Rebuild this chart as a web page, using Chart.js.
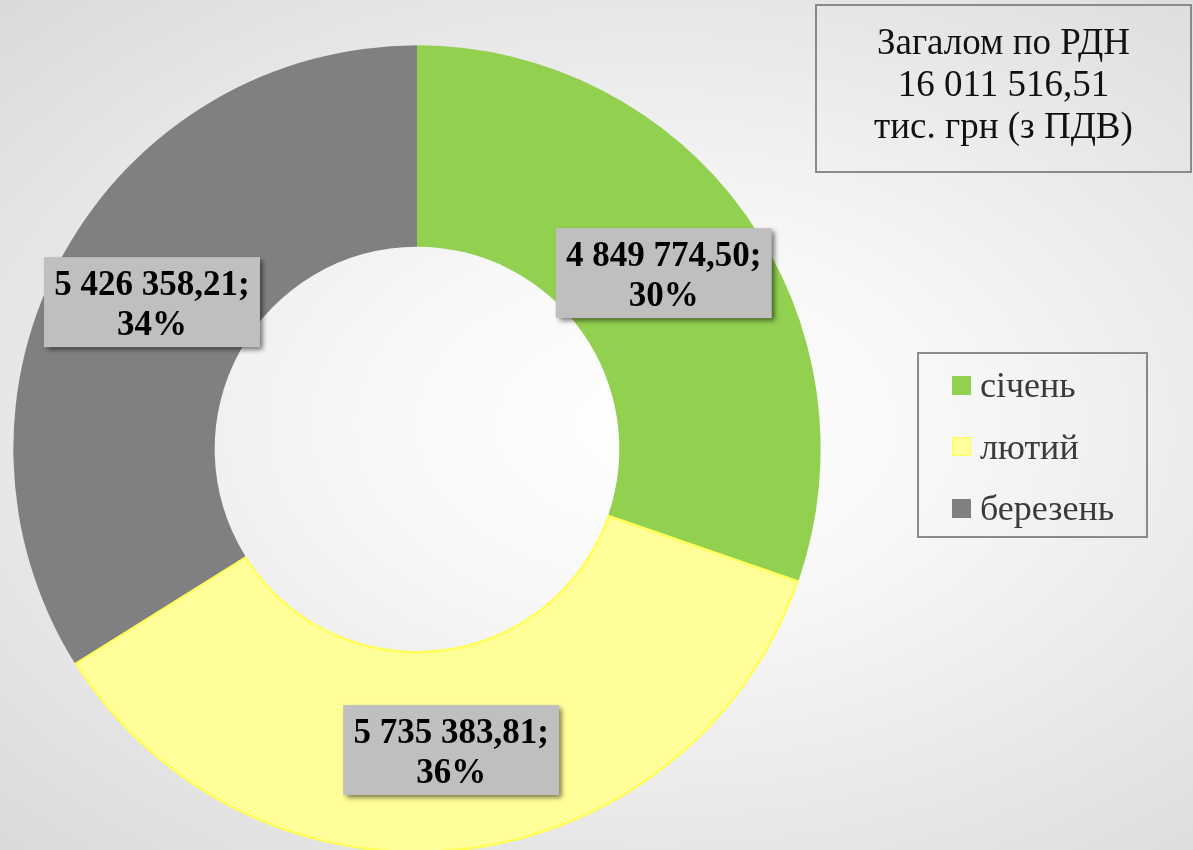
<!DOCTYPE html>
<html>
<head>
<meta charset="utf-8">
<script src="https://cdn.jsdelivr.net/npm/chart.js@4/dist/chart.umd.min.js"></script>
<style>
  html, body { margin: 0; padding: 0; }
  body {
    width: 1193px; height: 850px; overflow: hidden; position: relative;
    background: radial-gradient(ellipse farthest-corner at 55% 50%, #ffffff 0%, #f8f8f8 30%, #dadada 100%);
    font-family: "Liberation Serif", "Times New Roman", serif;
  }
  #wrap { position: absolute; left: 0; top: 0; width: 1193px; height: 861px; }
  #title {
    position: absolute; left: 815px; top: 4px; width: 373px; height: 155px; padding-bottom: 10px;
    border: 2px solid #8a8a8a; color: #111;
    font-size: 37px; line-height: 42px; text-align: center;
    display: flex; flex-direction: column; justify-content: center;
  }
  #legend {
    position: absolute; left: 917px; top: 352px; width: 227px; height: 182px;
    border: 2px solid #8a8a8a;
  }
  .item { position: absolute; left: 33px; height: 40px; display: flex; align-items: center;
    font-size: 36px; color: #3a3a3a; }
  .sw { width: 19px; height: 19px; margin-right: 9px; box-sizing: border-box; }
</style>
</head>
<body>
<div id="wrap"><canvas id="donut" width="1193" height="861"></canvas></div>
<div id="title"><div>Загалом по РДН</div><div>16 011 516,51</div><div>тис. грн (з ПДВ)</div></div>
<div id="legend"></div>
<script>
const months = ["січень", "лютий", "березень"];
const values = [4849774.50, 5735383.81, 5426358.21];
const colors = ["#92D050", "#FFFF99", "#808080"];
const borders = ["#92D050", "#FFFF55", "#808080"];

function formatUa(n) {
    const parts = n.toFixed(2).split(".");
    return parts[0].replace(/\B(?=(\d{3})+(?!\d))/g, " ") + "," + parts[1];
}

// legend in a bordered box
const legend = document.getElementById("legend");
months.forEach(function (m, i) {
    const row = document.createElement("div");
    row.className = "item";
    row.style.top = (11 + i * 61.5) + "px";
    const sw = document.createElement("span");
    sw.className = "sw";
    sw.style.background = colors[i];
    sw.style.border = "1px solid " + borders[i];
    row.appendChild(sw);
    row.appendChild(document.createTextNode(m));
    legend.appendChild(row);
});

const labelBoxes = {
    id: "labelBoxes",
    afterDatasetsDraw(chart) {
        const ctx = chart.ctx;
        const data = chart.data.datasets[0].data;
        const total = data.reduce((a, b) => a + b, 0);
        chart.getDatasetMeta(0).data.forEach(function (arc, i) {
            const p = arc.tooltipPosition();
            const w = 216, h = 90;
            ctx.save();
            ctx.shadowColor = "rgba(0,0,0,0.55)";
            ctx.shadowBlur = 5;
            ctx.shadowOffsetX = 3;
            ctx.shadowOffsetY = 3;
            ctx.fillStyle = "#BFBFBF";
            ctx.fillRect(p.x - w / 2, p.y - h / 2, w, h);
            ctx.restore();
            ctx.save();
            ctx.fillStyle = "#000";
            ctx.font = "bold 35px 'Liberation Serif'";
            ctx.textAlign = "center";
            ctx.textBaseline = "alphabetic";
            ctx.fillText(formatUa(data[i]) + ";", p.x, p.y - 7);
            ctx.fillText(Math.round(data[i] / total * 100) + "%", p.x, p.y + 33);
            ctx.restore();
        });
    }
};

new Chart(document.getElementById("donut"), {
    type: "doughnut",
    data: {
        labels: months,
        datasets: [{
            data: values,
            backgroundColor: colors,
            borderColor: borders,
            borderWidth: [0, 2, 0],
            borderAlign: "inner",
            hoverOffset: 0,
        }],
    },
    options: {
        responsive: false,
        animation: false,
        cutout: "50%",
        layout: { padding: { left: 13, top: 45, right: 372, bottom: 8 } },
        plugins: {
            legend: { display: false },
            tooltip: { enabled: false },
        },
    },
    plugins: [labelBoxes],
});
</script>
</body>
</html>
